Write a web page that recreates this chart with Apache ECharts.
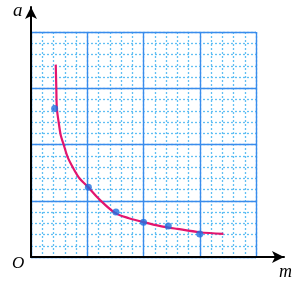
<!DOCTYPE html>
<html>
<head>
<meta charset="utf-8">
<script src="https://cdn.jsdelivr.net/npm/echarts@6/dist/echarts.min.js"></script>
<style>
html,body{margin:0;padding:0;background:#fff;}
#chart{width:300px;height:281px;}
</style>
</head>
<body>
<div id="chart"></div>
<script>
// Data (m and a in minor-grid units)
const curveM = [2.2, 2.25, 2.3, 2.5, 2.65, 2.9, 3.25, 3.7, 4.3, 5.0, 6.1, 7.5, 8.7, 10.0, 11.5, 13.0, 15.0, 17.1];
const curveA = [17.1, 15.0, 13.2, 11.7, 10.8, 10.0, 8.9, 8.0, 7.0, 6.3, 5.1, 3.9, 3.45, 3.1, 2.75, 2.5, 2.2, 2.05];
const pointM = [2.1, 5.1, 7.55, 10.0, 12.2, 15.0];
const pointA = [13.2, 6.2, 4.0, 3.1, 2.75, 2.05];
const axisMin = 0, axisMax = 20, minorStep = 1, majorStep = 5;
const xName = 'm', yName = 'a', originName = 'O';

const chart = echarts.init(document.getElementById('chart'));
const gridBox = {left: 31, top: 32, width: 225, height: 225};
const hidden = {axisLine:{show:false}, axisTick:{show:false}, axisLabel:{show:false}};
function gridAxis(step, lineStyle, z) {
  return Object.assign({type:'value', gridIndex:1, min:axisMin, max:axisMax, interval:step,
    splitLine:{show:true, lineStyle:lineStyle}, z:z}, hidden);
}
const minorStyle = {color:'#62bff3', width:1.3, type:[2,2]};
const majorStyle = {color:'#3a8cec', width:1.4, type:'solid'};
chart.setOption({
  animation:false,
  grid:[
    {left:31, top:7, width:253, height:250},
    gridBox
  ],
  xAxis:[
    {type:'value', gridIndex:0, min:0, max:1, axisTick:{show:false}, axisLabel:{show:false}, splitLine:{show:false},
      axisLine:{show:true, symbol:['none','arrow'], symbolSize:[9,12], lineStyle:{color:'#000', width:2}}, z:10},
    gridAxis(minorStep, minorStyle, 1),
    gridAxis(majorStep, majorStyle, 2)
  ],
  yAxis:[
    {type:'value', gridIndex:0, min:0, max:1, axisTick:{show:false}, axisLabel:{show:false}, splitLine:{show:false},
      axisLine:{show:true, symbol:['none','arrow'], symbolSize:[9,12], lineStyle:{color:'#000', width:2}}, z:10},
    gridAxis(minorStep, minorStyle, 1),
    gridAxis(majorStep, majorStyle, 2)
  ],
  series:[
    {type:'line', xAxisIndex:1, yAxisIndex:1, data:curveM.map((m,i)=>[m,curveA[i]]),
      smooth:0.3, symbol:'none', lineStyle:{color:'#e3156e', width:2.2}, z:5},
    {type:'scatter', xAxisIndex:1, yAxisIndex:1, data:pointM.map((m,i)=>[m,pointA[i]]),
      symbolSize:7, itemStyle:{color:'#1f6fe0'}, z:6}
  ],
  graphic:[
    {type:'text', left:13, top:1, style:{text:yName, font:'italic 19px "Liberation Serif"', fill:'#000'}},
    {type:'text', left:12, top:255, style:{text:originName, font:'italic 17px "Liberation Serif"', fill:'#000'}},
    {type:'text', left:279, top:263, style:{text:xName, font:'italic 18px "Liberation Serif"', fill:'#000'}}
  ]
});
</script>
</body>
</html>
